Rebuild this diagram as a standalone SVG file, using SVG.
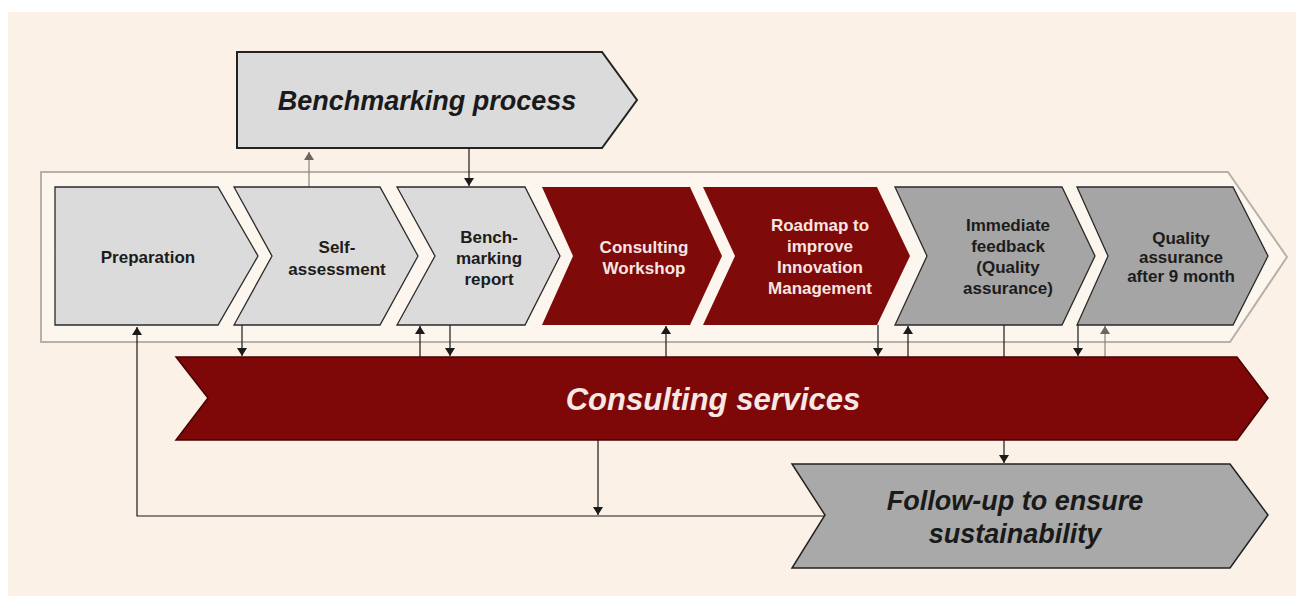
<svg xmlns="http://www.w3.org/2000/svg" width="1296" height="596" viewBox="0 0 1296 596">
<defs>
<style>
.bg{fill:#FBF1E6}
.lt{fill:#DBDBDB;stroke:#2a2a2a;stroke-width:1.3}
.dk{fill:#A5A5A5;stroke:#2a2a2a;stroke-width:1.3}
.rd{fill:#7F0A0A}
.t{font-family:"Liberation Sans",Arial,sans-serif;font-size:17px;font-weight:bold;text-anchor:middle;fill:#1c1c1c}
.tw{fill:#F6E6E2}
.big{font-family:"Liberation Sans",Arial,sans-serif;font-size:27px;font-weight:bold;font-style:italic;text-anchor:middle;fill:#1a1a1a}
.c{stroke:#1a1a1a;stroke-width:1.2;fill:none}
.cl{stroke:#8a8580;stroke-width:1.2;fill:none}
</style>
<marker id="ah" viewBox="0 0 8 10" refX="8" refY="5" markerWidth="8" markerHeight="10" markerUnits="userSpaceOnUse" orient="auto">
<path d="M0,0 L8,5 L0,10 Z" fill="#1a1a1a"/>
</marker>
<marker id="ahl" viewBox="0 0 8 10" refX="8" refY="5" markerWidth="8" markerHeight="10" markerUnits="userSpaceOnUse" orient="auto">
<path d="M0,0 L8,5 L0,10 Z" fill="#6a6560"/>
</marker>
</defs>
<rect x="0" y="0" width="1296" height="596" fill="#FFFFFF"/>
<rect class="bg" x="8" y="12" width="1288" height="584"/>

<g id="container">
<path d="M41,172 H1228 L1287,257 L1230,342 H41 Z" fill="#FCF6EF" stroke="#B9B1A8" stroke-width="2"/>
</g>

<g id="connectors">
<line class="cl" x1="309" y1="187" x2="309" y2="152" marker-end="url(#ahl)"/>
<line class="c" x1="469" y1="148" x2="469" y2="186" marker-end="url(#ah)"/>
<polyline class="c" points="825,516 137,516 137,327" marker-end="url(#ah)"/>
<line class="c" x1="598" y1="440" x2="598" y2="515" marker-end="url(#ah)"/>
<line class="c" x1="242" y1="325" x2="242" y2="356" marker-end="url(#ah)"/>
<line class="c" x1="420" y1="357" x2="420" y2="326" marker-end="url(#ah)"/>
<line class="c" x1="450" y1="325" x2="450" y2="356" marker-end="url(#ah)"/>
<line class="c" x1="666" y1="357" x2="666" y2="326" marker-end="url(#ah)"/>
<line class="c" x1="878" y1="325" x2="878" y2="356" marker-end="url(#ah)"/>
<line class="c" x1="908" y1="357" x2="908" y2="326" marker-end="url(#ah)"/>
<line class="c" x1="1004" y1="325" x2="1004" y2="463" marker-end="url(#ah)"/>
<line class="c" x1="1078" y1="325" x2="1078" y2="356" marker-end="url(#ah)"/>
<line class="cl" x1="1105" y1="357" x2="1105" y2="326" marker-end="url(#ahl)"/>
</g>

<g id="benchmarking-process">
<path d="M237,52 H602 L637,100 L602,148 H237 Z" fill="#DBDBDB" stroke="#222" stroke-width="2"/>
<text class="big" x="427" y="110">Benchmarking process</text>
</g>

<g id="preparation">
<path class="lt" d="M55,187 H218 L258,256 L218,325 H55 Z"/>
<text class="t" x="148" y="263">Preparation</text>
</g>
<g id="self-assessment">
<path class="lt" d="M234,187 H380 L418,256 L380,325 H234 L272,256 Z"/>
<text class="t" x="337" y="253">Self-</text>
<text class="t" x="337" y="275">assessment</text>
</g>
<g id="benchmarking-report">
<path class="lt" d="M397,187 H525 L560,256 L525,325 H397 L435,256 Z"/>
<text class="t" x="489" y="243">Bench-</text>
<text class="t" x="489" y="264">marking</text>
<text class="t" x="489" y="285">report</text>
</g>
<g id="consulting-workshop">
<path class="rd" d="M542,187 H690 L722,256 L690,325 H542 L573,256 Z"/>
<text class="t tw" x="644" y="253">Consulting</text>
<text class="t tw" x="644" y="274">Workshop</text>
</g>
<g id="roadmap">
<path class="rd" d="M703,187 H877 L910,256 L877,325 H703 L735,256 Z"/>
<text class="t tw" x="820" y="231">Roadmap to</text>
<text class="t tw" x="820" y="252">improve</text>
<text class="t tw" x="820" y="273">Innovation</text>
<text class="t tw" x="820" y="294">Management</text>
</g>
<g id="immediate-feedback">
<path class="dk" d="M895,187 H1062 L1095,256 L1062,325 H895 L927,256 Z"/>
<text class="t" x="1008" y="231">Immediate</text>
<text class="t" x="1008" y="252">feedback</text>
<text class="t" x="1008" y="273">(Quality</text>
<text class="t" x="1008" y="294">assurance)</text>
</g>
<g id="quality-assurance">
<path class="dk" d="M1077,187 H1233 L1268,256 L1233,325 H1077 L1108,256 Z"/>
<text class="t" x="1181" y="244">Quality</text>
<text class="t" x="1181" y="263">assurance</text>
<text class="t" x="1181" y="282">after 9 month</text>
</g>

<g id="consulting-services">
<path d="M176,357 H1237 L1268,398 L1237,440 H176 L208,398 Z" fill="#7E0808" stroke="#4a0000" stroke-width="1.5"/>
<text class="big" x="713" y="410" style="font-size:31px;fill:#F6E8E4">Consulting services</text>
</g>

<g id="follow-up">
<path d="M792,464 H1230 L1268,515 L1230,568 H792 L825,515 Z" fill="#A9A9A9" stroke="#222" stroke-width="1.5"/>
<text class="big" x="1015" y="510">Follow-up to ensure</text>
<text class="big" x="1015" y="543">sustainability</text>
</g>
</svg>
